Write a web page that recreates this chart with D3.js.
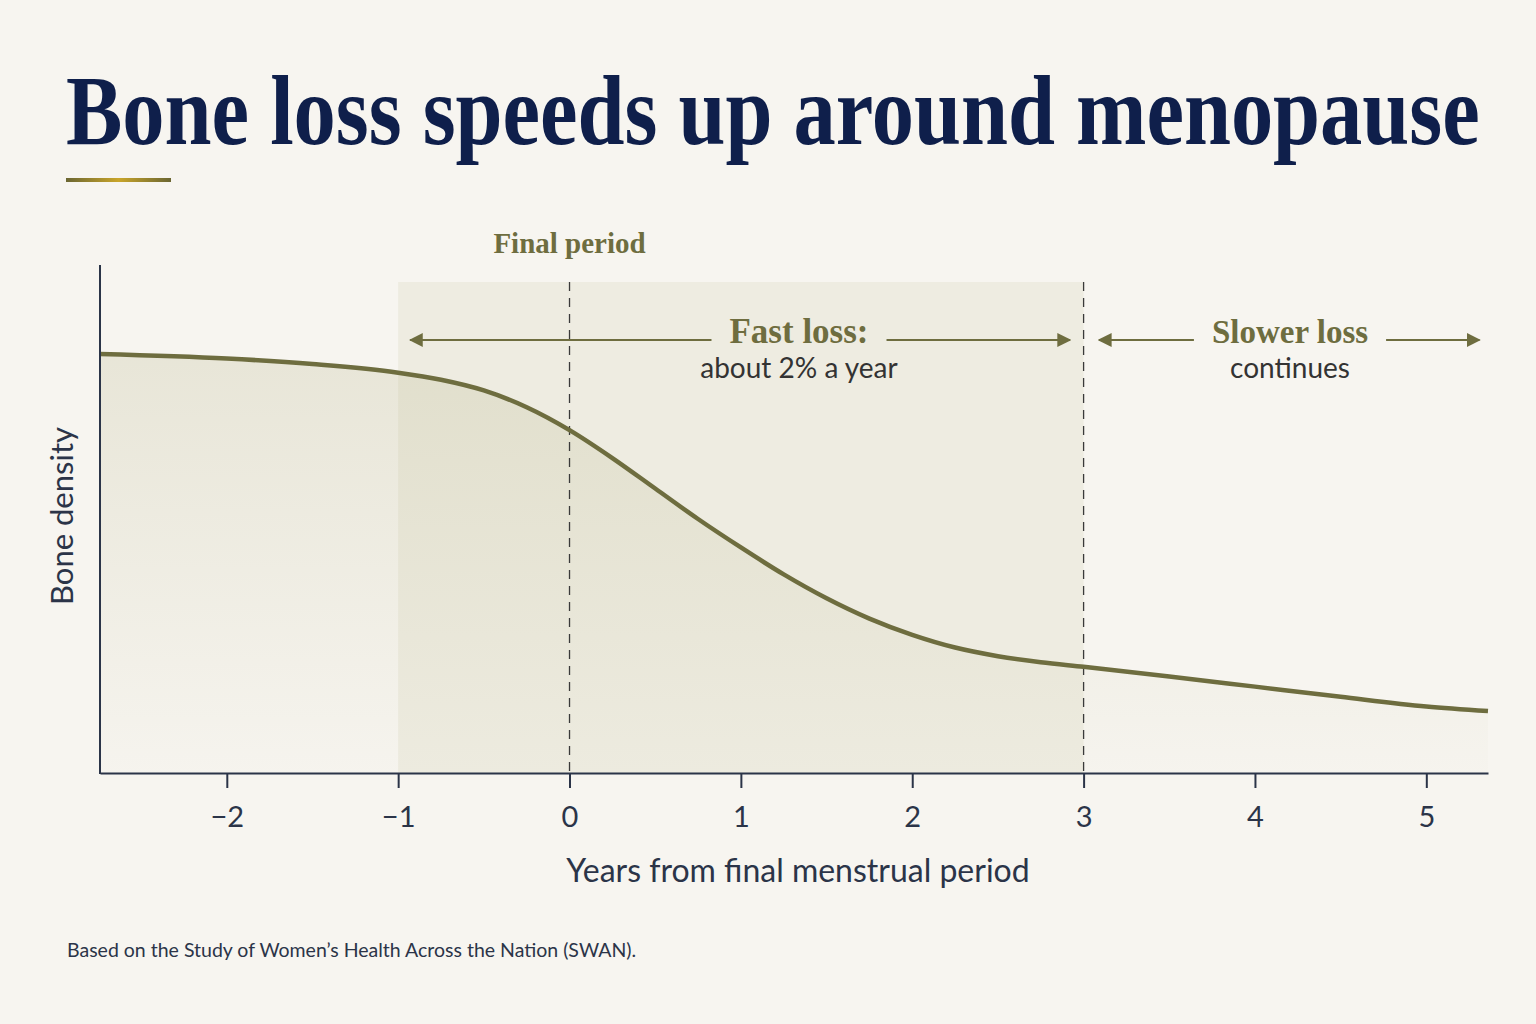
<!DOCTYPE html>
<html>
<head>
<meta charset="utf-8">
<script src="https://cdn.jsdelivr.net/npm/d3@7"></script>
<style>
  html, body { margin: 0; padding: 0; background: #f7f5f0; }
  svg { display: block; }
</style>
</head>
<body>
<svg id="chart" width="1536" height="1024"></svg>
<script>
// years from final menstrual period and relative bone density (no units shown)
var years = [-2.74, -2.0, -1.5, -1.0, -0.75, -0.5, -0.25, 0, 0.25, 0.5, 0.75, 1.0, 1.25, 1.5, 1.75, 2.0, 2.25, 2.5, 2.75, 3.0, 3.5, 4.0, 4.5, 5.0, 5.36];
var density = [82.5, 81.6, 80.5, 78.8, 77.4, 75.3, 72.0, 67.5, 62.0, 56.0, 50.0, 44.4, 39.1, 34.4, 30.4, 27.2, 24.7, 23.0, 21.8, 20.9, 19.0, 17.0, 15.0, 13.1, 12.2];
var xTicks = [-2, -1, 0, 1, 2, 3, 4, 5];
var fastBand = [-1, 3];
var markerYears = [0, 3];

var olive = "#6e6d3f";
var navy = "#0f1f4b";
var ink = "#2b3448";

var svg = d3.select("#chart");

var x = d3.scaleLinear().domain([-2.74, 5.36]).range([100, 1488]);
var y = d3.scaleLinear().domain([0, 100]).range([773, 265]);

var data = years.map((d, i) => ({ year: d, value: density[i] }));

var defs = svg.append("defs");

var gold = defs.append("linearGradient").attr("id", "gold");
gold.append("stop").attr("offset", "0%").attr("stop-color", "#6b6632");
gold.append("stop").attr("offset", "50%").attr("stop-color", "#c9a52a");
gold.append("stop").attr("offset", "100%").attr("stop-color", "#6b6632");

var areaGrad = defs.append("linearGradient")
    .attr("id", "areaGrad")
    .attr("x1", 0).attr("y1", 0).attr("x2", 0).attr("y2", 1);
areaGrad.append("stop").attr("offset", "0%").attr("stop-color", "#b8b58a").attr("stop-opacity", 0.24);
areaGrad.append("stop").attr("offset", "100%").attr("stop-color", "#b8b58a").attr("stop-opacity", 0.02);

defs.append("marker")
    .attr("id", "arrow")
    .attr("viewBox", "0 0 10 10")
    .attr("refX", 9).attr("refY", 5)
    .attr("markerWidth", 14).attr("markerHeight", 14)
    .attr("markerUnits", "userSpaceOnUse")
    .attr("orient", "auto-start-reverse")
    .append("path")
    .attr("d", "M0,0 L10,5 L0,10 z")
    .attr("fill", olive);

// title, squeezed horizontally to the reference width
var titleG = svg.append("g");
var title = titleG.append("text")
    .attr("x", 0)
    .attr("y", 0)
    .style("font-family", "'Liberation Serif', 'DejaVu Serif', serif")
    .style("font-weight", "bold")
    .style("font-size", "100px")
    .style("fill", navy)
    .text("Bone loss speeds up around menopause");
var titleW = title.node().getComputedTextLength();
titleG.attr("transform", "translate(66,144) scale(" + (1414 / titleW) + ",1)");

svg.append("rect")
    .attr("x", 66).attr("y", 178)
    .attr("width", 105).attr("height", 4)
    .attr("fill", "url(#gold)");

// fast loss band
svg.append("rect")
    .attr("x", x(fastBand[0]))
    .attr("y", 282)
    .attr("width", x(fastBand[1]) - x(fastBand[0]))
    .attr("height", y(0) - 282)
    .attr("fill", "#e9e8da")
    .attr("opacity", 0.7);

// area under curve
var area = d3.area()
    .x(d => x(d.year))
    .y0(y(0))
    .y1(d => y(d.value))
    .curve(d3.curveMonotoneX);

svg.append("path")
    .datum(data)
    .attr("d", area)
    .attr("fill", "url(#areaGrad)");

// dashed markers
svg.selectAll(".marker")
    .data(markerYears)
    .enter()
    .append("line")
    .attr("class", "marker")
    .attr("x1", d => x(d)).attr("x2", d => x(d))
    .attr("y1", 282).attr("y2", y(0))
    .style("stroke", "#3a3a3a")
    .style("stroke-width", 1.3)
    .style("stroke-dasharray", "9,7");

// curve
var line = d3.line()
    .x(d => x(d.year))
    .y(d => y(d.value))
    .curve(d3.curveMonotoneX);

svg.append("path")
    .datum(data)
    .attr("d", line)
    .attr("fill", "none")
    .style("stroke", olive)
    .style("stroke-width", 4.5);

// axes
var xAxis = svg.append("g")
    .attr("transform", "translate(0," + y(0) + ")")
    .call(d3.axisBottom(x).tickValues(xTicks).tickSize(15).tickPadding(18).tickSizeOuter(0));

xAxis.select(".domain").style("stroke", ink).style("stroke-width", 2);
xAxis.selectAll(".tick line").style("stroke", ink).style("stroke-width", 2);
xAxis.selectAll(".tick text")
    .style("font-family", "Lato, 'Open Sans', sans-serif")
    .style("font-size", "29px")
    .style("fill", ink);

svg.append("line")
    .attr("x1", 100).attr("x2", 100)
    .attr("y1", 265).attr("y2", y(0) + 1)
    .style("stroke", ink)
    .style("stroke-width", 2);

svg.append("text")
    .attr("transform", "translate(73,516) rotate(-90)")
    .attr("text-anchor", "middle")
    .style("font-family", "Lato, 'Open Sans', sans-serif")
    .style("font-size", "31px")
    .style("fill", ink)
    .text("Bone density");

svg.append("text")
    .attr("x", 798)
    .attr("y", 882)
    .attr("text-anchor", "middle")
    .style("font-family", "Lato, 'Open Sans', sans-serif")
    .style("font-size", "32px")
    .style("fill", ink)
    .text("Years from final menstrual period");

// annotations
svg.append("text")
    .attr("x", x(0))
    .attr("y", 253)
    .attr("text-anchor", "middle")
    .style("font-family", "'Liberation Serif', serif")
    .style("font-weight", "bold")
    .style("font-size", "29px")
    .style("fill", olive)
    .text("Final period");

function rangeNote(x0, x1, cx, title, sub, size) {
    var t = svg.append("text")
        .attr("x", cx)
        .attr("y", 343)
        .attr("text-anchor", "middle")
        .style("font-family", "'Liberation Serif', serif")
        .style("font-weight", "bold")
        .style("font-size", size + "px")
        .style("fill", olive)
        .text(title);
    var w = t.node().getComputedTextLength();

    svg.append("text")
        .attr("x", cx)
        .attr("y", 378)
        .attr("text-anchor", "middle")
        .style("font-family", "Lato, 'Open Sans', sans-serif")
        .style("font-size", "28px")
        .style("fill", "#333")
        .text(sub);

    svg.append("line")
        .attr("x1", cx - w / 2 - 18).attr("x2", x0)
        .attr("y1", 340).attr("y2", 340)
        .style("stroke", olive).style("stroke-width", 1.8)
        .attr("marker-end", "url(#arrow)");
    svg.append("line")
        .attr("x1", cx + w / 2 + 18).attr("x2", x1)
        .attr("y1", 340).attr("y2", 340)
        .style("stroke", olive).style("stroke-width", 1.8)
        .attr("marker-end", "url(#arrow)");
}

rangeNote(x(-0.93), x(2.92), 799, "Fast loss:", "about 2% a year", 35);
rangeNote(x(3.09), x(5.31), 1290, "Slower loss", "continues", 33);

// source
svg.append("text")
    .attr("x", 67)
    .attr("y", 957)
    .style("font-family", "Lato, 'Open Sans', sans-serif")
    .style("font-size", "19.5px")
    .style("fill", ink)
    .text("Based on the Study of Women’s Health Across the Nation (SWAN).");
</script>
</body>
</html>
